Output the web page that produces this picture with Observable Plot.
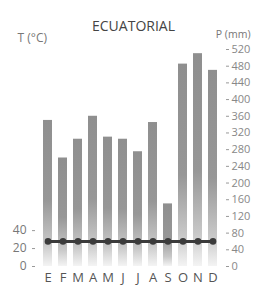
<!DOCTYPE html>
<html>
<head>
<meta charset="utf-8">
<script src="https://cdn.jsdelivr.net/npm/d3@7"></script>
<script src="https://cdn.jsdelivr.net/npm/@observablehq/plot@0.6"></script>
<style>
  html, body { margin: 0; padding: 0; background: #fff; }
  #chart { width: 254px; height: 291px; }
</style>
</head>
<body>
<div id="chart"></div>
<script>
const months = ["E","F","M","A","M","J","J","A","S","O","N","D"];
const precip = [350, 260, 305, 360, 310, 305, 275, 345, 150, 485, 510, 470];
const temp = [28, 28, 28, 28, 28, 28, 28, 28, 28, 28, 28, 28];
const pTicks = [0, 40, 80, 120, 160, 200, 240, 280, 320, 360, 400, 440, 480, 520];
const tTicks = [0, 20, 40];
const title = "ECUATORIAL";
const tLabel = "T (°C)";
const pLabel = "P (mm)";
const k = 2.15; // mm per °C on the shared vertical scale

const data = months.map((m, i) => ({i, m, p: precip[i], t: temp[i] * k}));

const plot = Plot.plot({
  width: 254,
  height: 291,
  marginTop: 49,
  marginBottom: 25,
  marginLeft: 35,
  marginRight: 29,
  style: {fontFamily: "'Open Sans', sans-serif", background: "#fff"},
  x: {type: "band", domain: d3.range(12), padding: 0.4},
  y: {domain: [0, 520]},
  marks: [
    Plot.barY(data, {x: "i", y: "p", fill: "url(#barGrad)"}),
    Plot.line(data, {x: "i", y: "t", stroke: "#3b3b3b", strokeWidth: 3}),
    Plot.dot(data, {x: "i", y: "t", r: 3.3, fill: "#3b3b3b", stroke: "none"}),
    Plot.axisX({tickSize: 0, tickPadding: 6, fontSize: 13, fill: "#555", tickFormat: i => months[i], label: null}),
    Plot.axisY({anchor: "right", ticks: pTicks, tickSize: 3, tickPadding: 3, fontSize: 11, fill: "#888", stroke: "#999", label: null}),
    Plot.axisY({anchor: "left", ticks: tTicks.map(t => t * k), tickFormat: (d, i) => tTicks[i], tickSize: 3, tickPadding: 6, fontSize: 12, fill: "#777", stroke: "#999", label: null}),
    Plot.text([title], {frameAnchor: "top", dy: -28, dx: 3, fontSize: 14, fill: "#444"}),
    Plot.text([tLabel], {frameAnchor: "top-left", dx: -18, dy: -16, fontSize: 12, fill: "#777"}),
    Plot.text([pLabel], {frameAnchor: "top-right", dx: 25, dy: -18.5, fontSize: 10.5, fill: "#777"})
  ]
});

const svg = d3.select(plot);
const defs = svg.insert("defs", ":first-child");
const g = defs.append("linearGradient").attr("id", "barGrad").attr("x1", 0).attr("y1", 0).attr("x2", 0).attr("y2", 1);
g.append("stop").attr("offset", "0%").attr("stop-color", "#8f8f8f");
g.append("stop").attr("offset", "55%").attr("stop-color", "#979797");
g.append("stop").attr("offset", "85%").attr("stop-color", "#c8c8c8");
g.append("stop").attr("offset", "100%").attr("stop-color", "#f4f4f4");

document.getElementById("chart").appendChild(plot);
</script>
</body>
</html>
